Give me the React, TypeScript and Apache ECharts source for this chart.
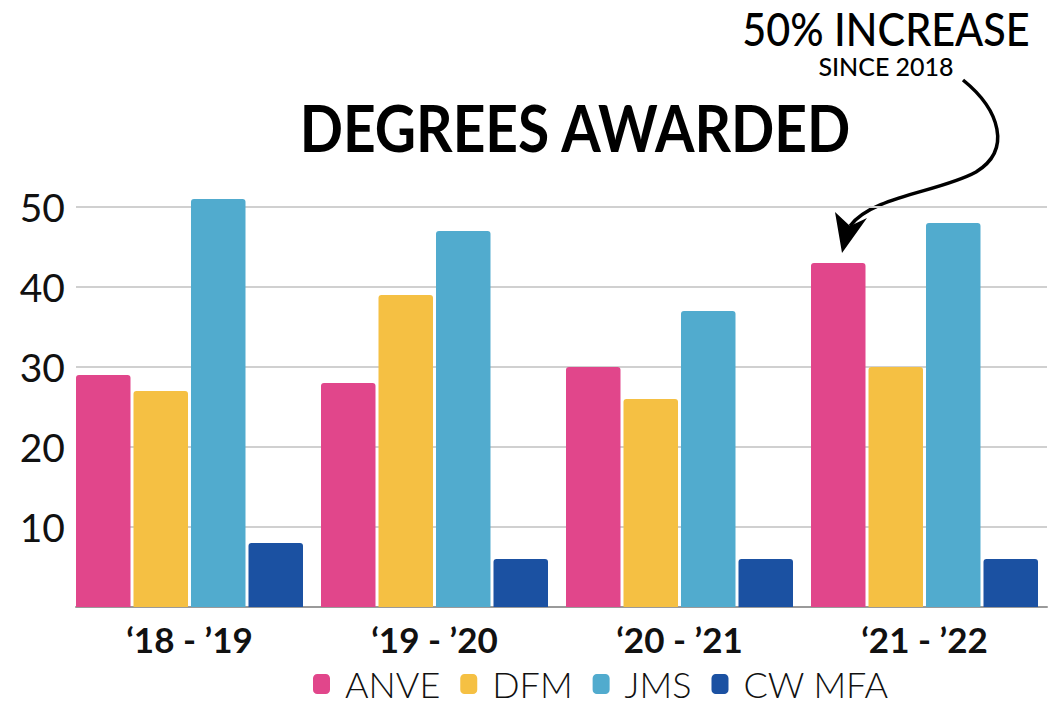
import React, { useEffect, useRef } from "react";
import * as echarts from "echarts";

const categories = ["‘18 - ’19", "‘19 - ’20", "‘20 - ’21", "‘21 - ’22"];
const seriesNames = ["ANVE", "DFM", "JMS", "CW MFA"];
const anve = [29, 28, 30, 43];
const dfm = [27, 39, 26, 30];
const jms = [51, 47, 37, 48];
const cwmfa = [8, 6, 6, 6];
const colors = ["#E1468B", "#F5C043", "#51ABCE", "#1B51A2"];
const title = "DEGREES AWARDED";
const noteMain = "50% INCREASE";
const noteSub = "SINCE 2018";

const ARROW_D = "M963,80 C1000,110 1012,150 976,172 C940,192 872,196 850,226";
echarts.graphic.registerShape(
  "arrowCurve",
  echarts.graphic.extendPath(ARROW_D, {}) as any
);

export default function App() {
  const ref = useRef<HTMLDivElement>(null);
  useEffect(() => {
    if (!ref.current) return;
    const chart = echarts.init(ref.current, undefined, { renderer: "svg" });
    const values = [anve, dfm, jms, cwmfa];
    const font = "Lato, 'Open Sans', sans-serif";
    const option: any = {
      animation: false,
      backgroundColor: "#ffffff",
      color: colors,
      grid: [
        { left: 67, width: 980, top: 167, bottom: 96, containLabel: false },
        { left: 76, right: 1, top: 167, bottom: 96, containLabel: false },
      ],
      xAxis: [
        {
          type: "category",
          gridIndex: 0,
          data: categories,
          axisLine: { show: false },
          axisTick: { show: false },
          axisLabel: {
            fontFamily: font,
            fontSize: 35,
            fontWeight: 700,
            color: "#111",
            margin: 14,
          },
        },
        {
          type: "value",
          gridIndex: 1,
          min: 0,
          max: 1,
          axisLine: { show: true, lineStyle: { color: "#9a9a9a", width: 2 } },
          axisTick: { show: false },
          axisLabel: { show: false },
          splitLine: { show: false },
        },
      ],
      yAxis: [
        { type: "value", gridIndex: 0, min: 0, max: 55, show: false },
        {
          type: "value",
          gridIndex: 1,
          min: 0,
          max: 55,
          interval: 10,
          axisLine: { show: false },
          axisTick: { show: false },
          axisLabel: {
            fontFamily: font,
            fontSize: 39,
            fontWeight: 400,
            color: "#111",
            margin: 11,
            formatter: (v: number) => (v === 0 || v > 50 ? "" : String(v)),
          },
          splitLine: {
            show: true,
            lineStyle: {
              color: ["#d0d0d0", "#d0d0d0", "#d0d0d0", "#d0d0d0", "#d0d0d0", "#d0d0d0", "rgba(0,0,0,0)"],
              width: 2,
            },
          },
        },
      ],
      legend: {
        left: 313,
        top: 666,
        itemWidth: 17,
        itemHeight: 20,
        itemGap: 20,
        padding: 0,
        icon: "roundRect",
        data: seriesNames,
        textStyle: {
          fontFamily: font,
          fontSize: 36,
          fontWeight: 300,
          color: "#111",
          lineHeight: 30,
          padding: [0, 0, 0, 10],
        },
      },
      series: seriesNames.map((name, i) => ({
        name,
        type: "bar",
        xAxisIndex: 0,
        yAxisIndex: 0,
        data: values[i],
        barWidth: 54.5,
        barGap: "5.5%",
        itemStyle: { color: colors[i], borderRadius: [3, 3, 0, 0] },
      })),
      graphic: [
        {
          type: "text",
          x: 575,
          y: 127,
          scaleX: 0.875,
          style: {
            text: title,
            fontFamily: font,
            fontSize: 65,
            fontWeight: 700,
            fill: "#000",
            textAlign: "center",
            textVerticalAlign: "middle",
          },
        },
        {
          type: "text",
          x: 886,
          y: 28,
          scaleX: 0.9,
          style: {
            text: noteMain,
            fontFamily: font,
            fontSize: 46,
            fontWeight: 500,
            fill: "#000",
            textAlign: "center",
            textVerticalAlign: "middle",
          },
        },
        {
          type: "text",
          x: 886,
          y: 66,
          style: {
            text: noteSub,
            fontFamily: font,
            fontSize: 25,
            fontWeight: 500,
            fill: "#000",
            textAlign: "center",
            textVerticalAlign: "middle",
          },
        },
        {
          type: "arrowCurve",
          x: 0,
          y: 0,
          style: { fill: "none", stroke: "#000", lineWidth: 3.5 },
        },
        {
          type: "polygon",
          shape: { points: [[835, 212], [850, 226], [867, 218], [842, 253]] },
          style: { fill: "#000" },
        },
      ],
    };
    chart.setOption(option);
    return () => chart.dispose();
  }, []);
  return (
    <div
      ref={ref}
      style={{ position: "fixed", left: 0, top: 0, width: 1048, height: 703 }}
    />
  );
}
